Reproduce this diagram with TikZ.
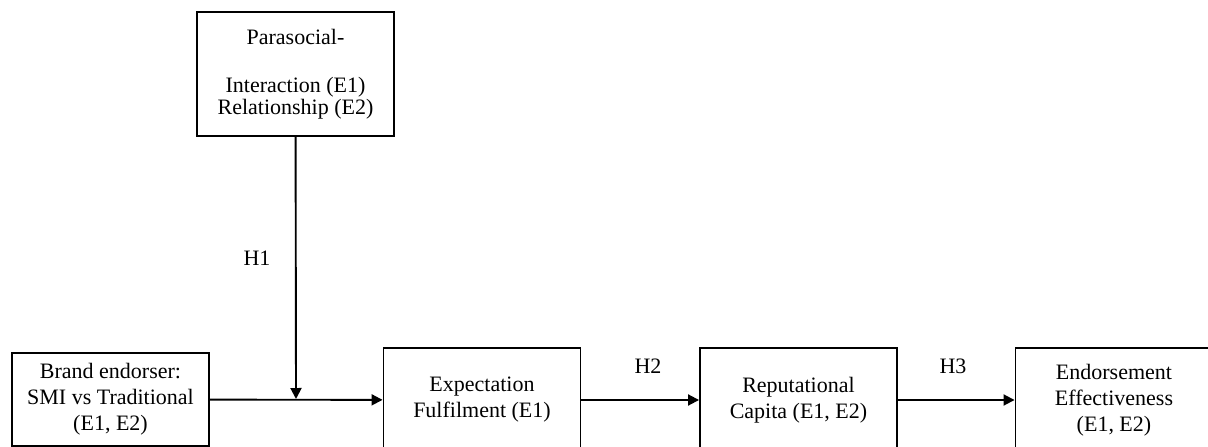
\documentclass[tikz,border=0pt]{standalone}
\usepackage{fontspec}
\setmainfont{Liberation Serif}
\usepackage{tikz}
\usetikzlibrary{arrows.meta, positioning, calc}

\tikzset{
  construct/.style={draw, line width=1.9pt, minimum width=197pt, minimum height=104pt,
    align=center, inner sep=0pt, font=\fontsize{22}{26}\selectfont},
  hyp/.style={font=\fontsize{22}{26}\selectfont},
  path/.style={line width=1.9pt, -{Triangle[length=11pt, width=11pt]}}
}

\begin{document}
\begin{tikzpicture}[x=1pt, y=-1pt]
		\useasboundingbox (0,0) rectangle (1208,447);
		\clip (0,0) rectangle (1208,447);

		\node[construct, minimum height=124pt] (para) at (295.5,74) {Parasocial-\\[22pt] Interaction (E1)\\[-4pt] Relationship (E2)};
		\node[construct, minimum height=93pt] (brand) at (110.5,399.5) {Brand endorser:\\ SMI vs Traditional\\ (E1, E2)};
		\node[construct] (expect) at (482,400) {Expectation\\ Fulfilment (E1)};
		\node[construct] (capital) at (798.5,400) {Reputational\\ Capita (E1, E2)};
		\node[construct] (effect) at (1114,400) {Endorsement\\ Effectiveness\\ (E1, E2)};

		% Paths
		\coordinate (mod) at (296,399);
		\draw[path] (brand) -- (expect);
		\draw[path] (para) -- (mod);
		\draw[path] (expect) -- (capital);
		\draw[path] (capital) -- (effect);

		% Hypotheses
		\node[hyp] (h1) at (257,258) {H1};
		\node[hyp] (h2) at (648,366) {H2};
		\node[hyp] (h3) at (953,366) {H3};
	\end{tikzpicture}
\end{document}
